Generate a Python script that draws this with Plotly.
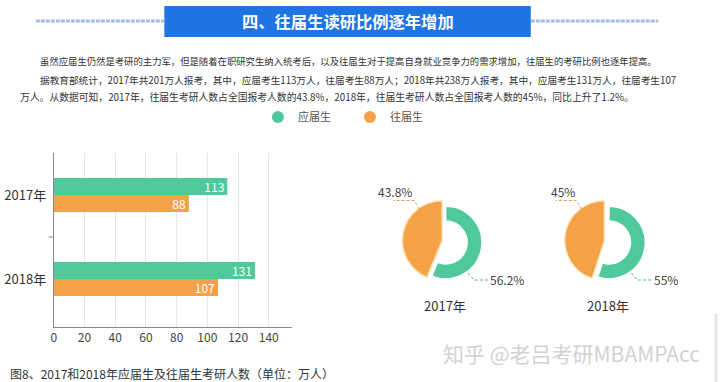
import plotly.graph_objects as go

W, H = 720, 382
FONT = "Noto Sans CJK SC, Noto Sans, sans-serif"

# ---------------- data ----------------
years = ["2017年", "2018年"]
series_names = ["应届生", "往届生"]
fresh_counts = [113, 131]      # 应届生 (万人)
past_counts = [88, 107]        # 往届生 (万人)
fresh_pct = [56.2, 55]         # 应届生 share (%)
past_pct = [43.8, 45]          # 往届生 share (%)
x_ticks = [0, 20, 40, 60, 80, 100, 120, 140]

title_text = "四、往届生读研比例逐年增加"
para_lines = [
    "虽然应届生仍然是考研的主力军，但是随着在职研究生纳入统考后，以及往届生对于提高自身就业竞争力的需求增加，往届生的考研比例也逐年提高。",
    "据教育部统计，2017年共201万人报考，其中，应届考生113万人，往届考生88万人；2018年共238万人报考，其中，应届考生131万人，往届考生107",
    "万人。从数据可知，2017年，往届生考研人数占全国报考人数的43.8%，2018年，往届生考研人数占全国报考人数的45%，同比上升了1.2%。",
]
caption = "图8、2017和2018年应届生及往届生考研人数（单位：万人）"
watermark = "知乎 @老吕考研MBAMPAcc"

GREEN = "#4fc99c"
ORANGE = "#f4a247"
BLUE = "#1e74e3"
CLEAR = "rgba(0,0,0,0)"


def px(x):
    return x / W


def py(y):
    return 1 - y / H


fig = go.Figure()

# ---------------- bar chart ----------------
for vals, col, nm in [(fresh_counts, GREEN, series_names[0]), (past_counts, ORANGE, series_names[1])]:
    fig.add_trace(go.Bar(
        y=years, x=vals, orientation="h", name=nm, marker=dict(color=col, line=dict(width=0)),
        text=vals, textposition="inside", insidetextanchor="end", textangle=0,
        textfont=dict(color="white", size=12, family=FONT),
        showlegend=False, hoverinfo="skip", xaxis="x", yaxis="y",
    ))

# legend entries (circles)
for nm, col in zip(series_names, [GREEN, ORANGE]):
    fig.add_trace(go.Scatter(x=[None], y=[None], mode="markers", name=nm,
                             marker=dict(color=col, size=12), showlegend=True, hoverinfo="skip"))

# ---------------- donuts ----------------
donut_years = years
donut_fresh_centers = [(444.5, 242.5), (608.5, 242.5)]
donut_past_centers = [(441, 240.5), (604, 240.5)]
R_FRESH, R_PAST, HOLE = 36.5, 40, 0.59


def dom(cx, cy, r):
    return dict(x=[px(cx - r), px(cx + r)], y=[py(cy + r), py(cy - r)])


annotations = []
shapes = []
for i in range(2):
    vals = [fresh_pct[i], past_pct[i]]
    fcx, fcy = donut_fresh_centers[i]
    pcx, pcy = donut_past_centers[i]
    # past share: full slice
    fig.add_trace(go.Pie(
        values=vals, labels=series_names, sort=False, direction="clockwise", rotation=0,
        marker=dict(colors=[CLEAR, ORANGE], line=dict(color="#fde4bd", width=[0, 1.5])),
        textinfo="none", hoverinfo="skip", showlegend=False, domain=dom(pcx, pcy, R_PAST),
    ))
    # fresh share: ring
    fig.add_trace(go.Pie(
        values=vals, labels=series_names, sort=False, direction="clockwise", rotation=0, hole=HOLE,
        marker=dict(colors=[GREEN, CLEAR], line=dict(color="white", width=[1.5, 0])),
        textinfo="none", hoverinfo="skip", showlegend=False, domain=dom(fcx, fcy, R_FRESH),
    ))
    # leader (past, upper-left)
    pts = [(pcx - 23, pcy - 31), (pcx - 28, pcy - 40), (pcx - 49, pcy - 40)]
    path = "M {} {} L {} {} L {} {}".format(*[v for p in pts for v in (px(p[0]), py(p[1]))])
    shapes.append(dict(type="path", xref="paper", yref="paper", path=path,
                       line=dict(color="#e49a52", width=1, dash="3px,2px")))
    annotations.append(dict(text=f"{past_pct[i]:g}%", x=px(pcx - 28), y=py(pcy - 49), xref="paper", yref="paper",
                            xanchor="right", yanchor="middle", showarrow=False,
                            font=dict(size=12, color="#444", family=FONT)))
    # leader (fresh, lower-right)
    pts = [(fcx + 22.5, fcy + 30.5), (fcx + 28.5, fcy + 37.5), (fcx + 42.5, fcy + 37.5)]
    path = "M {} {} L {} {} L {} {}".format(*[v for p in pts for v in (px(p[0]), py(p[1]))])
    shapes.append(dict(type="path", xref="paper", yref="paper", path=path,
                       line=dict(color="#5fa98c", width=1, dash="3px,2px")))
    annotations.append(dict(text=f"{fresh_pct[i]:g}%", x=px(fcx + 43), y=py(fcy + 36.5), xref="paper", yref="paper",
                            xanchor="left", yanchor="middle", showarrow=False,
                            font=dict(size=12, color="#444", family=FONT)))
    annotations.append(dict(text=donut_years[i], x=px(fcx - 1), y=py(305), xref="paper", yref="paper",
                            xanchor="center", yanchor="middle", showarrow=False,
                            font=dict(size=13, color="#333", family=FONT)))

# ---------------- header & text ----------------
shapes += [
    dict(type="rect", xref="paper", yref="paper", x0=px(162), x1=px(530), y0=py(37), y1=py(6),
         fillcolor=BLUE, line=dict(width=0), layer="below"),
    dict(type="line", xref="paper", yref="paper", x0=px(33), x1=px(162), y0=py(21), y1=py(21),
         line=dict(color="#a3bce6", width=3, dash="4px,1px")),
    dict(type="line", xref="paper", yref="paper", x0=px(530), x1=px(658), y0=py(21), y1=py(21),
         line=dict(color="#a3bce6", width=3, dash="4px,1px")),
    # category boundary tick
    dict(type="line", xref="paper", yref="y", x0=px(46), x1=px(51), y0=0.5, y1=0.5,
         line=dict(color="#8a8a8a", width=1)),
    # right page edge
    dict(type="line", xref="paper", yref="paper", x0=px(716), x1=px(716), y0=py(382), y1=py(314),
         line=dict(color="#e6e6e6", width=3)),
]

annotations.append(dict(text=f"<b>{title_text}</b>", x=px(346), y=py(21.5), xref="paper", yref="paper",
                        xanchor="center", yanchor="middle", showarrow=False,
                        font=dict(size=16.3, color="white", family=FONT)))
for line, x0, y0, fs in zip(para_lines, [35, 35, 15], [61, 80, 97], [9.36, 9.66, 9.8]):
    annotations.append(dict(text=line, x=px(x0), y=py(y0), xref="paper", yref="paper",
                            xanchor="left", yanchor="middle", showarrow=False,
                            font=dict(size=fs, color="#333", family=FONT)))
annotations.append(dict(text=caption, x=px(5), y=py(373), xref="paper", yref="paper",
                        xanchor="left", yanchor="middle", showarrow=False,
                        font=dict(size=12, color="#333", family=FONT)))
annotations.append(dict(text=watermark, x=px(440), y=py(353), xref="paper", yref="paper",
                        xanchor="left", yanchor="middle", showarrow=False,
                        font=dict(size=21, color="#d2d2d2", family=FONT)))

fig.update_layout(
    width=W, height=H, margin=dict(l=0, r=0, t=0, b=0),
    paper_bgcolor="white", plot_bgcolor="white",
    font=dict(family=FONT, color="#333"),
    barmode="group", bargap=0.595, bargroupgap=0,
    uniformtext=dict(minsize=12, mode="show"),
    xaxis=dict(domain=[px(51), px(290)], range=[0, 155], tickvals=x_ticks, showgrid=True,
               gridcolor="#e6e6e6", gridwidth=1, showline=True, linecolor="#8a8a8a", linewidth=1,
               zeroline=False, ticks="", tickfont=dict(size=12, color="#444", family=FONT),
               anchor="y", fixedrange=True),
    yaxis=dict(domain=[py(327), py(153)], type="category", range=[1.571, -0.5], showgrid=False,
               showline=True, linecolor="#8a8a8a", linewidth=1, zeroline=False, ticks="",
               ticklabelstandoff=4, tickfont=dict(size=13, color="#333", family=FONT),
               anchor="x", fixedrange=True),
    showlegend=True,
    legend=dict(orientation="h", x=px(256), xanchor="left", y=py(117), yanchor="middle",
                font=dict(size=11, color="#555", family=FONT), bgcolor=CLEAR,
                entrywidth=47, entrywidthmode="pixels", borderwidth=0),
    shapes=shapes, annotations=annotations,
)

fig.write_html("out.html", post_script="document.body.style.margin='0';",
               config={"displayModeBar": False})
